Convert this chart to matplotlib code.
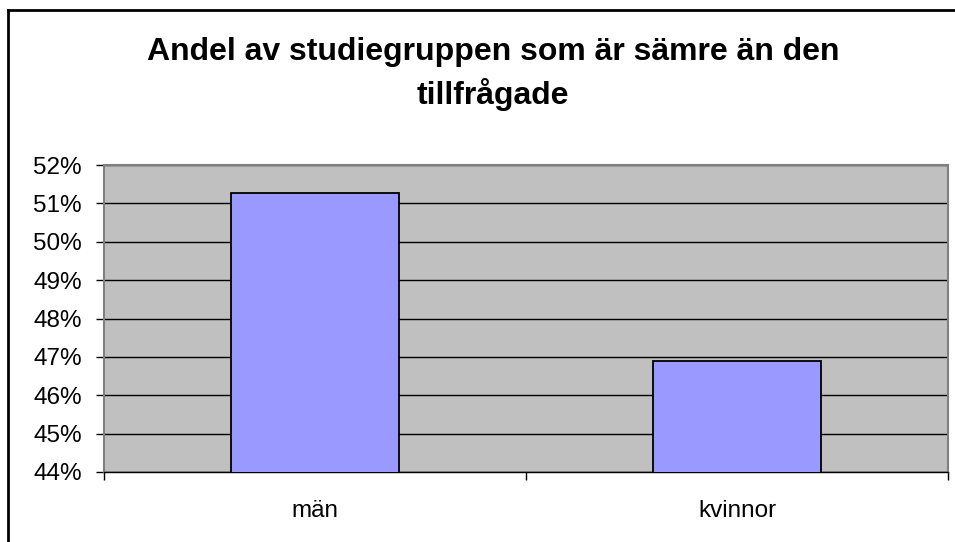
import matplotlib
matplotlib.use("Agg")
import matplotlib.pyplot as plt
from matplotlib.ticker import FuncFormatter, FixedLocator
from matplotlib.lines import Line2D

categories = ["män", "kvinnor"]
values = [51.27, 46.90]
yticks = [44, 45, 46, 47, 48, 49, 50, 51, 52]
title = "Andel av studiegruppen som är sämre än den\ntillfrågade"

plt.rcParams['font.family'] = ['Liberation Sans', 'DejaVu Sans']

W, H = 955, 542
fig = plt.figure(figsize=(W / 100, H / 100), dpi=100)
fig.patch.set_facecolor("white")

# outer chart frame (left and top edges visible)
fig.add_artist(Line2D([8 / W, 8 / W], [0, 1 - 10 / H], transform=fig.transFigure, color="black", lw=2))
fig.add_artist(Line2D([8 / W, 1], [1 - 10 / H, 1 - 10 / H], transform=fig.transFigure, color="black", lw=2))

ax = fig.add_axes([104 / W, (H - 472) / H, 844 / W, (472 - 165) / H])
ax.set_facecolor("#C0C0C0")
x = list(range(len(categories)))
ax.bar(x, values, width=0.40, color="#9999FF", edgecolor="black", linewidth=1.3, zorder=3)
ax.set_xlim(-0.5, len(categories) - 0.5)
ax.set_ylim(yticks[0], yticks[-1])
ax.yaxis.set_major_locator(FixedLocator(yticks))
ax.yaxis.set_major_formatter(FuncFormatter(lambda v, p: f"{v:.0f}%"))
ax.grid(axis="y", color="black", linewidth=1.0, zorder=1)
ax.set_axisbelow(True)

ax.set_xticks([-0.5, 0.5, 1.5])
ax.set_xticklabels([])
ax.set_xticks(x, minor=True)
ax.set_xticklabels(categories, minor=True)
ax.tick_params(axis="x", which="minor", length=0, pad=20, labelsize=17.5)
ax.tick_params(axis="x", which="major", length=6, width=1, color="black", direction="out")
ax.tick_params(axis="y", length=6, width=1, color="black", direction="out", labelsize=17.5, pad=10)

for side in ["top", "right", "left"]:
    ax.spines[side].set_color("#808080")
    ax.spines[side].set_linewidth(1.5)
ax.spines["bottom"].set_color("black")
ax.spines["bottom"].set_linewidth(1.0)

fig.text(493 / W, 1 - 74 / H, title, ha="center", va="center", fontsize=23,
         fontweight="bold", linespacing=1.45)

fig.savefig("out.png", dpi=100, facecolor="white")
